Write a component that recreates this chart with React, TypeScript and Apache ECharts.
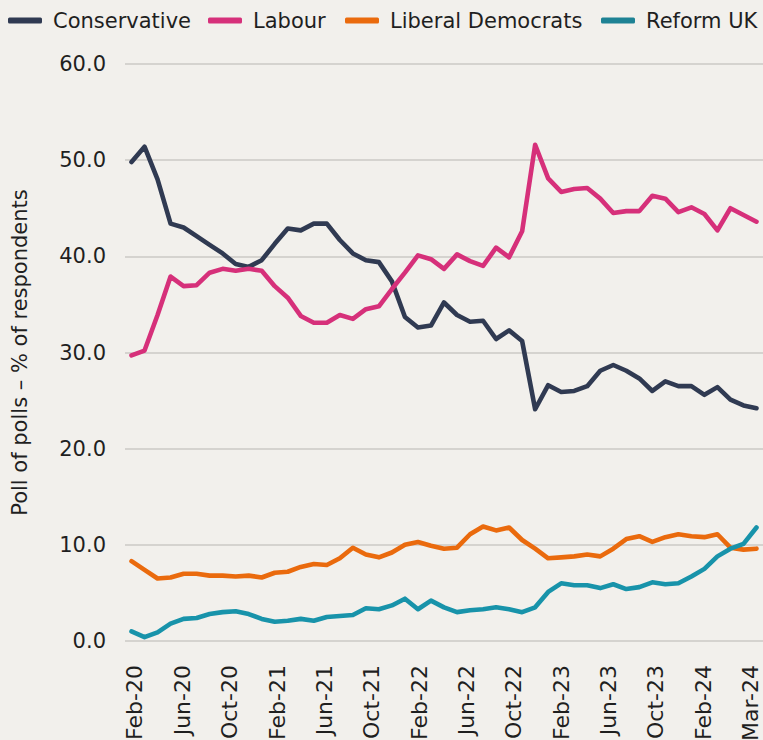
import React, { useEffect, useRef } from "react";
import * as echarts from "echarts";

const pointIds = Array.from({ length: 49 }, (_, i) => String(i + 1));
const tickLabels = [
  "Feb-20", "Jun-20", "Oct-20", "Feb-21", "Jun-21", "Oct-21", "Feb-22",
  "Jun-22", "Oct-22", "Feb-23", "Jun-23", "Oct-23", "Feb-24", "Mar-24",
];
const conservative = [
  49.8, 51.4, 48.0, 43.4, 43.0, 42.1, 41.2, 40.3, 39.2, 38.9, 39.6, 41.3, 42.9,
  42.7, 43.4, 43.4, 41.7, 40.3, 39.6, 39.4, 37.4, 33.7, 32.6, 32.8, 35.2, 33.9,
  33.2, 33.3, 31.4, 32.3, 31.2, 24.1, 26.6, 25.9, 26.0, 26.5, 28.1, 28.7, 28.1,
  27.3, 26.0, 27.0, 26.5, 26.5, 25.6, 26.4, 25.1, 24.5, 24.2,
];
const labour = [
  29.7, 30.2, 33.9, 37.9, 36.9, 37.0, 38.3, 38.7, 38.5, 38.7, 38.5, 36.9, 35.7,
  33.8, 33.1, 33.1, 33.9, 33.5, 34.5, 34.8, 36.6, 38.3, 40.1, 39.7, 38.7, 40.2,
  39.5, 39.0, 40.9, 39.9, 42.6, 51.6, 48.1, 46.7, 47.0, 47.1, 46.0, 44.5, 44.7,
  44.7, 46.3, 46.0, 44.6, 45.1, 44.4, 42.7, 45.0, 44.3, 43.6,
];
const libDem = [
  8.3, 7.4, 6.5, 6.6, 7.0, 7.0, 6.8, 6.8, 6.7, 6.8, 6.6, 7.1, 7.2, 7.7, 8.0, 7.9,
  8.6, 9.7, 9.0, 8.7, 9.2, 10.0, 10.3, 9.9, 9.6, 9.7, 11.1, 11.9, 11.5, 11.8,
  10.5, 9.6, 8.6, 8.7, 8.8, 9.0, 8.8, 9.6, 10.6, 10.9, 10.3, 10.8, 11.1, 10.9,
  10.8, 11.1, 9.7, 9.5, 9.6,
];
const reform = [
  1.0, 0.4, 0.9, 1.8, 2.3, 2.4, 2.8, 3.0, 3.1, 2.8, 2.3, 2.0, 2.1, 2.3, 2.1, 2.5,
  2.6, 2.7, 3.4, 3.3, 3.7, 4.4, 3.3, 4.2, 3.5, 3.0, 3.2, 3.3, 3.5, 3.3, 3.0, 3.5,
  5.1, 6.0, 5.8, 5.8, 5.5, 5.9, 5.4, 5.6, 6.1, 5.9, 6.0, 6.7, 7.5, 8.8, 9.6,
  10.1, 11.8,
];

const FONT = "DejaVu Sans";
const TEXT = "#1f1f1f";

const seriesDefs = [
  { name: "Conservative", data: conservative, color: "#303a52", legendLeft: 8 },
  { name: "Labour", data: labour, color: "#d6307a", legendLeft: 208 },
  { name: "Liberal Democrats", data: libDem, color: "#ea6a0d", legendLeft: 345 },
  { name: "Reform UK", data: reform, color: "#1893aa", legendLeft: 601 },
];

export default function App() {
  const ref = useRef<HTMLDivElement>(null);
  useEffect(() => {
    document.body.style.margin = "0";
    document.body.style.background = "#f2f0ec";
    if (!ref.current) return;
    const chart = echarts.init(ref.current, undefined, { renderer: "svg" });
    chart.setOption({
      animation: false,
      backgroundColor: "#f2f0ec",
      textStyle: { fontFamily: FONT },
      legend: seriesDefs.map((s) => ({
        left: s.legendLeft,
        top: 10,
        data: [{ name: s.name, itemStyle: { color: s.name === "Reform UK" ? "#1e8294" : s.color } }],
        icon: "roundRect",
        itemWidth: 34,
        itemHeight: 6,
        padding: 0,
        textStyle: { fontFamily: FONT, fontSize: 21, color: TEXT, padding: [0, 0, 0, 6] },
      })),
      grid: { left: 125, right: 0, top: 64, bottom: 99, containLabel: false, outerBoundsMode: "none" },
      xAxis: [
        {
          type: "category",
          data: pointIds,
          position: "top",
          boundaryGap: true,
          axisLine: { show: false },
          axisTick: { show: false },
          axisLabel: { show: false },
          splitLine: { show: false },
        },
        {
          type: "value",
          position: "bottom",
          min: -0.211,
          max: 13.26,
          axisLine: { show: false },
          axisTick: { show: false },
          splitLine: { show: false },
          axisLabel: {
            customValues: tickLabels.map((_, i) => i),
            formatter: (v: number) => tickLabels[Math.round(v)] ?? "",
            rotate: 90,
            margin: 24,
            fontFamily: FONT,
            fontSize: 22,
            color: TEXT,
            showMinLabel: true,
            showMaxLabel: true,
          },
        },
      ],
      yAxis: {
        type: "value",
        min: 0,
        max: 60,
        interval: 10,
        name: "Poll of polls – % of respondents",
        nameLocation: "middle",
        nameGap: 95,
        nameTextStyle: { fontFamily: FONT, fontSize: 21, color: TEXT },
        axisLine: { show: false },
        axisTick: { show: false },
        axisLabel: {
          formatter: (v: number) => v.toFixed(1),
          margin: 19,
          fontFamily: FONT,
          fontSize: 21,
          color: TEXT,
        },
        splitLine: { lineStyle: { color: "#d5d3cf", width: 2 } },
      },
      series: seriesDefs.map((s) => ({
        name: s.name,
        type: "line",
        xAxisIndex: 0,
        data: s.data,
        showSymbol: false,
        symbol: "none",
        color: s.color,
        lineStyle: { color: s.color, width: 4.6, cap: "round", join: "round" },
      })),
    });
    return () => chart.dispose();
  }, []);
  return <div ref={ref} style={{ width: 763, height: 740 }} />;
}
